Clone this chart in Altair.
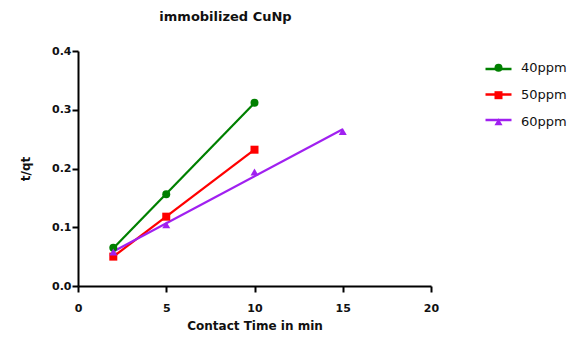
import altair as alt
import pandas as pd

series = ["40ppm", "50ppm", "60ppm"]
time_40 = [2, 5, 10]
tq_40 = [0.065, 0.156, 0.312]
time_50 = [2, 5, 10]
tq_50 = [0.050, 0.118, 0.232]
time_60 = [2, 5, 10, 15]
tq_60 = [0.058, 0.104, 0.194, 0.263]

colors = ["#008000", "#FF0000", "#A020F0"]
shapes = ["circle", "square", "triangle-up"]
x_ticks = [0, 5, 10, 15, 20]
y_ticks = [0.0, 0.1, 0.2, 0.3, 0.4]

rows = []
for name, xs, ys in zip(series, [time_40, time_50, time_60], [tq_40, tq_50, tq_60]):
    for t, v in zip(xs, ys):
        rows.append({"series": name, "time": t, "tq": v})
df = pd.DataFrame(rows)

FONT = "DejaVu Sans"

x_enc = alt.X("time:Q", scale=alt.Scale(domain=[0, 20], nice=False),
              axis=alt.Axis(values=x_ticks, title="Contact Time in min",
                            labelPadding=10,
                            titleX=176.5, titleY=39, titleBaseline="middle"))
y_enc = alt.Y("tq:Q", scale=alt.Scale(domain=[0, 0.4], nice=False),
              axis=alt.Axis(values=y_ticks, format=".1f", title="t/qt",
                            labelPadding=1,
                            titleX=-53, titleY=117.5, titleAngle=-90,
                            titleBaseline="middle", titleAlign="center"))
color_scale = alt.Scale(domain=series, range=colors)

base = alt.Chart(df)

line = base.transform_regression(
    "time", "tq", groupby=["series"]
).mark_line(strokeWidth=2.2).encode(
    x=x_enc, y=y_enc,
    color=alt.Color("series:N", scale=color_scale,
                    legend=alt.Legend(title=None, orient="none", legendX=406, legendY=3.5,
                                      symbolType="stroke", symbolSize=676,
                                      symbolStrokeWidth=2.5, rowPadding=3.5,
                                      labelExpr="''", labelOffset=0, labelFontSize=13)),
)

shape_legend = alt.Legend(title=None, orient="none", legendX=414, legendY=10.2,
                          symbolSize=64, rowPadding=12.5, labelOffset=16,
                          labelFont=FONT, labelFontSize=13,
                          labelColor="#111111", symbolOpacity=1)

points = base.mark_point(filled=True, size=64, opacity=1).encode(
    x=x_enc, y=y_enc,
    color=alt.Color("series:N", scale=color_scale, legend=shape_legend),
    shape=alt.Shape("series:N", scale=alt.Scale(domain=series, range=shapes),
                    legend=shape_legend),
)

chart = alt.layer(line, points).resolve_legend(
    color="independent", shape="independent"
).properties(
    width=353, height=235,
    padding={"left": 70, "top": 43, "right": 140, "bottom": 45},
    autosize=alt.AutoSizeParams(type="none"),
    title=alt.Title("immobilized CuNp", font=FONT, fontSize=13, fontWeight="bold",
                    anchor="middle", dx=-29, offset=21, color="#111111"),
).configure_view(stroke=None).configure_axis(
    grid=False, domainColor="black", domainWidth=2, tickColor="black",
    tickWidth=2, tickSize=6, labelFont=FONT, labelFontWeight="bold",
    labelFontSize=11, labelColor="#111111", labelFlush=False,
    titleFont=FONT, titleFontWeight="bold", titleFontSize=12, titleColor="#111111",
)

chart.save("out.html", embed_options={"renderer": "svg", "actions": False})
